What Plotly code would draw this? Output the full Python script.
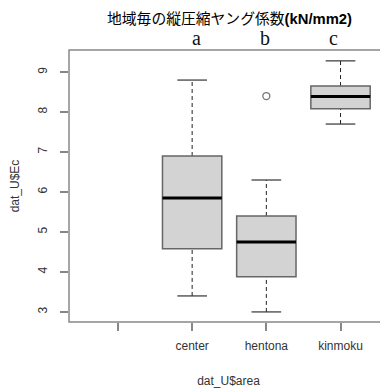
import plotly.graph_objects as go

categories = ["", "center", "hentona", "kinmoku"]
positions = [1, 2, 3, 4]
box_pos = [2, 3, 4]
lower_whisker = [3.4, 3.0, 7.7]
q1 = [4.58, 3.88, 8.08]
median = [5.85, 4.75, 8.39]
q3 = [6.9, 5.4, 8.65]
upper_whisker = [8.8, 6.3, 9.28]
outlier_x = [3]
outlier_y = [8.4]
letters = ["a", "b", "c"]
letter_x = [2.06, 2.98, 3.9]
y_ticks = [3, 4, 5, 6, 7, 8, 9]

BW = 0.4   # half box width
CW = 0.2   # half cap width

fig = go.Figure()
shapes = []
for p, lw, a, m, b, uw in zip(box_pos, lower_whisker, q1, median, q3, upper_whisker):
    shapes.append(dict(type="line", xref="x", yref="y", x0=p, x1=p, y0=lw, y1=a,
                       line=dict(color="#222", width=1, dash="4px,3px")))
    shapes.append(dict(type="line", xref="x", yref="y", x0=p, x1=p, y0=b, y1=uw,
                       line=dict(color="#222", width=1, dash="4px,3px")))
    shapes.append(dict(type="line", xref="x", yref="y", x0=p - CW, x1=p + CW, y0=lw, y1=lw,
                       line=dict(color="#333", width=1.2)))
    shapes.append(dict(type="line", xref="x", yref="y", x0=p - CW, x1=p + CW, y0=uw, y1=uw,
                       line=dict(color="#333", width=1.2)))
    shapes.append(dict(type="rect", xref="x", yref="y", x0=p - BW, x1=p + BW, y0=a, y1=b,
                       fillcolor="#D3D3D3", line=dict(color="#666", width=1.5)))
    shapes.append(dict(type="line", xref="x", yref="y", x0=p - BW, x1=p + BW, y0=m, y1=m,
                       line=dict(color="#000", width=3)))

shapes.append(dict(type="rect", xref="paper", yref="paper", x0=0, x1=1.02, y0=0, y1=1,
                   line=dict(color="#888", width=1.5), fillcolor="rgba(0,0,0,0)", layer="above"))

fig.add_trace(go.Scatter(x=outlier_x, y=outlier_y, mode="markers",
                         marker=dict(symbol="circle-open", size=7, color="#777",
                                     line=dict(width=1.3)),
                         showlegend=False, hoverinfo="skip"))

annotations = []
for t, x in zip(letters, letter_x):
    annotations.append(dict(x=x, xref="x", y=1.0, yref="paper", yshift=12, text=t, showarrow=False,
                            font=dict(family="Liberation Serif", size=20, color="#111"),
                            yanchor="middle", xanchor="center"))

# page body has an 8px margin, so the figure is offset by (8, 8)
fig.update_layout(
    width=380, height=381,
    margin=dict(l=61, r=0, t=42, b=67, autoexpand=False),
    paper_bgcolor="white", plot_bgcolor="white",
    shapes=shapes, annotations=annotations,
    showlegend=False,
    title=dict(text="地域毎の縦圧縮ヤング係数<span style='font-family:Liberation Sans'><b>(kN/mm2)</b></span>",
               x=221.5 / 380, xanchor="center", xref="container", y=1 - 11 / 381, yanchor="middle",
               automargin=False,
               font=dict(family="Noto Sans CJK JP", size=14.8, color="#000")),
    font=dict(family="Liberation Sans", size=12, color="#333"),
    xaxis=dict(range=[0.34, 4.64], tickmode="array", tickvals=positions, ticktext=categories,
               automargin=False,
               showgrid=False, zeroline=False, showline=False,
               ticks="outside", ticklen=8, tickcolor="#888", tickwidth=1.5,
               ticklabelstandoff=5,
               tickfont=dict(size=12, color="#333"),
               title=dict(text="dat_U$area", font=dict(size=12, color="#333"), standoff=24)),
    yaxis=dict(range=[2.748, 9.552], tickmode="array", tickvals=y_ticks,
               automargin=False,
               showgrid=False, zeroline=False, showline=False,
               ticks="outside", ticklen=8, tickcolor="#888", tickwidth=1.5,
               ticklabelstandoff=8,
               tickangle=-90, tickfont=dict(size=12, color="#333"),
               title=dict(text="dat_U$Ec", font=dict(size=12, color="#333"), standoff=19)),
)

fig.write_html("out.html")
